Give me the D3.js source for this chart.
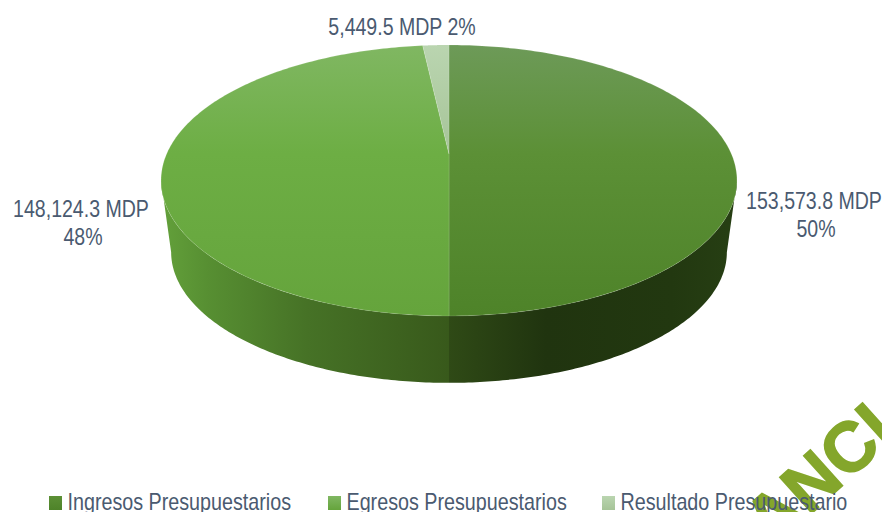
<!DOCTYPE html>
<html><head><meta charset="utf-8">
<script src="https://cdn.jsdelivr.net/npm/d3@7/dist/d3.min.js"></script>
<style>html,body{margin:0;padding:0;background:#fff;overflow:hidden}svg{display:block}
text{font-family:"Liberation Sans",sans-serif;fill:#4a5a70;font-size:23px}</style>
</head><body><svg id="c" width="882" height="512"></svg>
<script>
const categories=["Ingresos Presupuestarios","Egresos Presupuestarios","Resultado Presupuestario"];
const values=[153573.8,148124.3,5449.5];
const amountLabels=["153,573.8 MDP","148,124.3 MDP","5,449.5 MDP"];
const percentLabels=["50%","48%","2%"];

const svg=d3.select("#c"), defs=svg.append("defs");
function grad(id,stops,x1,y1,x2,y2){
  const g=defs.append("linearGradient").attr("id",id).attr("gradientUnits","userSpaceOnUse")
    .attr("x1",x1).attr("y1",y1).attr("x2",x2).attr("y2",y2);
  stops.forEach(s=>g.append("stop").attr("offset",s[0]).attr("stop-color",s[1]));
}
grad("t0",[[0,"#6d9a58"],[.4,"#5c9036"],[1,"#4e8329"]],0,45,0,316);
grad("t1",[[0,"#80b762"],[.4,"#6dae44"],[1,"#65a43c"]],0,45,0,316);
grad("t2",[[0,"#bad5b0"],[1,"#a6c498"]],0,45,0,155);
grad("s0",[[0,"#2f4a16"],[.35,"#20340f"],[.8,"#223810"],[1,"#263e13"]],449,0,727,0);
grad("s1",[[0,"#629f3a"],[.15,"#578f32"],[.5,"#467226"],[1,"#38591b"]],165,0,449,0);
grad("l0",[[0,"#5c9036"],[1,"#4e8329"]],0,496,0,510);
grad("l1",[[0,"#80b762"],[1,"#65a43c"]],0,496,0,510);
grad("l2",[[0,"#bad5b0"],[1,"#a6c498"]],0,496,0,510);

// perspective projection of the pie disc
const k=0.1955, narrow=0.85, legendNarrow=0.858;
function proj(cy,ax,ay){return t=>{
  // t: d3.pie angle, 0 at back (top), clockwise
  const x=Math.sin(t), z=-Math.cos(t), s=1/(1-k*z);
  return [449+ax*x*s, cy+ay*z*s];
};}
const rimTop=proj(154,282.4,130.3), rimBottom=proj(226.6,272.5,125.7);
const pie=d3.pie().sort(null)(values);
const line=d3.line();
const samples=(a,b,n=120)=>d3.range(n+1).map(i=>a+(b-a)*i/n);

// front side walls: silhouette angle is where z = k
const silR=Math.PI-Math.acos(k), silL=Math.PI+Math.acos(k);
function wall(a,b){
  const ts=samples(a,b);
  return line(ts.map(rimTop).concat(ts.slice().reverse().map(rimBottom)))+"Z";
}
svg.append("path").attr("d",wall(silR,pie[0].endAngle)).attr("fill","url(#s0)");
svg.append("path").attr("d",wall(pie[1].startAngle,silL)).attr("fill","url(#s1)");

// top slices
const sliceG=svg.append("g");
sliceG.selectAll("path").data(pie).join("path")
  .attr("d",d=>line([[449,154]].concat(samples(d.startAngle,d.endAngle,180).map(rimTop)))+"Z")
  .attr("fill",(d,i)=>`url(#t${i})`)
  .attr("stroke","#ffffff").attr("stroke-opacity",.18).attr("stroke-width",.7);

// watermark (behind the legend)
svg.append("text").attr("transform","translate(771,550) rotate(-42)")
  .style("font-weight","bold").style("font-size","70px").style("fill","#84a62b")
  .style("stroke","#84a62b").style("stroke-width","1.5px")
  .text("ANCI");

// data labels
const lab=svg.append("g").attr("text-anchor","middle");
const lines=[[814,209,amountLabels[0]],[816,237,percentLabels[0]],
  [81,217,amountLabels[1]],[83,245,percentLabels[1]],
  [402,35,amountLabels[2]+" "+percentLabels[2]]];
lab.selectAll("text").data(lines).join("text")
  .attr("transform",d=>`translate(${d[0]},${d[1]}) scale(${narrow},1)`).text(d=>d[2]);

// legend
const legendX=[49,328,602];
const lg=svg.append("g").selectAll("g").data(categories).join("g")
  .attr("transform",(d,i)=>`translate(${legendX[i]},0)`);
lg.append("rect").attr("y",496).attr("width",13).attr("height",14).attr("fill",(d,i)=>`url(#l${i})`);
lg.append("text").attr("transform",`translate(18.5,510) scale(${legendNarrow},1)`).text(d=>d);
</script></body></html>
